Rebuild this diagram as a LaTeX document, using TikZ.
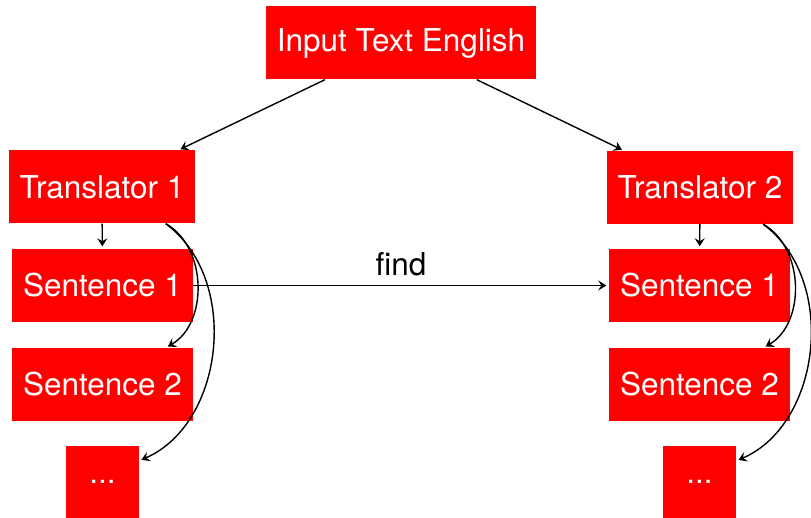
\documentclass[tikz,border=0pt]{standalone}
\usepackage{fontspec}
\setmainfont{TeX Gyre Heros}
\usetikzlibrary{arrows.meta}
\begin{document}
\begin{tikzpicture}[x=1pt,y=-1pt,
  box/.style={fill=red,text=white,inner sep=0pt,minimum height=73pt,
    font=\fontsize{31.5}{37}\selectfont},
  wide/.style={box,minimum width=181pt},
  link/.style={line width=1.4pt,shorten >=2.5pt,
    -{Stealth[length=8pt,width=10pt,inset=3pt]}}]
\useasboundingbox (0,0) rectangle (811,518);
% top input
\node[box,minimum width=270pt] (in) at (401,43) {Input Text English};
% left column
\node[box,minimum width=186pt] (t1) at (102,187) {Translator 1};
\node[wide] (s11) at (102.5,285.5) {Sentence 1};
\node[wide] (s12) at (102.5,384.5) {Sentence 2};
\node[box,minimum width=73pt,minimum height=72pt] (d1) at (102.5,482) {...};
% right column
\node[box,minimum width=186pt] (t2) at (700,187.5) {Translator 2};
\node[wide] (s21) at (699.5,285.5) {Sentence 1};
\node[wide] (s22) at (699.5,384.5) {Sentence 2};
\node[box,minimum width=73pt,minimum height=72pt] (d2) at (699.5,482) {...};
% connectors
\draw[link] (in) -- (t1);
\draw[link] (in) -- (t2);
\draw[link] (t1) -- (s11);
\draw[link] (t2) -- (s21);
\draw[link] (t1) to[bend left=60] (s12);
\draw[link] (t1) to[bend left=60] (d1);
\draw[link] (t2) to[bend left=60] (s22);
\draw[link] (t2) to[bend left=60] (d2);
\draw[link] (s11) -- node[above=5pt,font=\fontsize{31.5}{37}\selectfont] (lbl) {find} (s21);
\end{tikzpicture}
\end{document}
